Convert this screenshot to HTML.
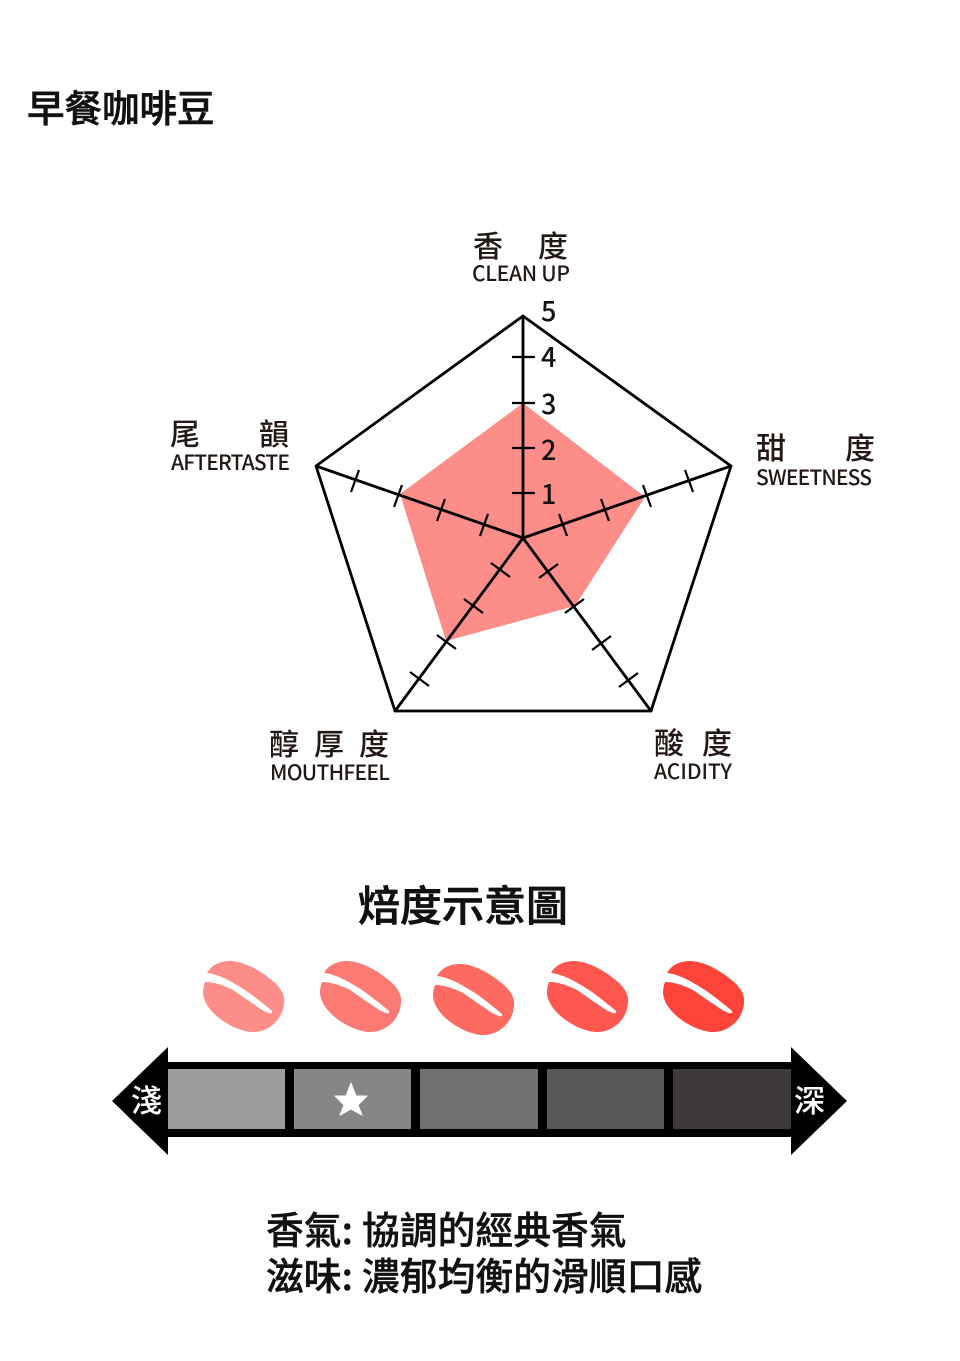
<!DOCTYPE html>
<html lang="zh-Hant"><head><meta charset="utf-8"><title>早餐咖啡豆</title>
<style>
html,body{margin:0;padding:0;background:#fff;width:960px;height:1361px;overflow:hidden}
svg{display:block}
text{font-family:"Noto Sans CJK TC","Noto Sans CJK SC","Liberation Sans",sans-serif}
.l{font-size:30px;fill:#231815;font-weight:500}
.e{font-size:21px;fill:#231815;font-weight:500}
.n{font-size:27px;fill:#111;font-weight:500}
.b{font-size:37.8px;fill:#111;font-weight:500;stroke:#111;stroke-width:.4}
</style></head><body>
<svg width="960" height="1361" viewBox="0 0 960 1361" xmlns="http://www.w3.org/2000/svg">
<defs>
<g id="bean"><path d="M4 12C8 5 15 0 28 0C45 1 62 13 72 22C78 28 82 34 81 42C80 58 66 72 48 71C28 69 0 50 0 31C0 27 1 24 2 21Z"/><path fill="#fff" d="M-2 12L4 12C15 13 28 20 42 29C52 36 62 44 69 50Q70 53 66 52C60 50 56 47 52 44C44 39 36 33 30 29C22 25 12 21 2 21L-2 22Z"/></g>
</defs>
<text x="27" y="122" style="font-size:37.5px;font-weight:500;fill:#111;stroke:#111;stroke-width:.6">早餐咖啡豆</text>

<polygon points="523,403 645,497 575,606 446,641 400,494" fill="#fd8d89"/>
<polygon points="523,316 731,466 651,711 395,711 316,466" fill="none" stroke="#000" stroke-width="2.8" stroke-linejoin="miter"/>
<g stroke="#000" stroke-width="2.8" fill="none">
<path d="M523 316V538M731 466L523 538M651 711L523 538M395 711L523 538M316 466L523 538"/>
<g stroke-width="2.2">
<path d="M512 357H535M512 403H535M512 448H535M512 493H535"/>
<path d="M559 514L567 536M601 499L609 521M643 485L651 507M685 470L693 492"/>
<path d="M488 514L480 536M445 499L437 521M402 485L394 507M359 470L351 492"/>
<path d="M539 578L558 564M565 613L584 599M592 650L611 636M619 687L638 673"/>
<path d="M491 563L510 577M464 599L483 613M437 635L456 649M410 672L429 686"/>
</g></g>
<text class="n" x="541" y="321">5</text>
<text class="n" x="541" y="367">4</text>
<text class="n" x="541" y="414">3</text>
<text class="n" x="541" y="460">2</text>
<text class="n" x="541" y="504">1</text>

<text class="l" x="473" y="257">香</text><text class="l" x="538" y="257">度</text>
<text class="e" x="472" y="281" textLength="98">CLEAN UP</text>
<text class="l" x="170" y="445">尾</text><text class="l" x="259" y="445">韻</text>
<text class="e" x="171" y="470" textLength="119">AFTERTASTE</text>
<text class="l" x="756" y="459">甜</text><text class="l" x="845" y="459">度</text>
<text class="e" x="756" y="485" textLength="116">SWEETNESS</text>
<text class="l" x="269" y="755">醇</text><text class="l" x="314" y="755">厚</text><text class="l" x="359" y="755">度</text>
<text class="e" x="270" y="780" textLength="120">MOUTHFEEL</text>
<text class="l" x="654" y="754">酸</text><text class="l" x="702" y="754">度</text>
<text class="e" x="654" y="779" textLength="78">ACIDITY</text>

<text x="358" y="921" style="font-size:42px;font-weight:500;fill:#111;stroke:#111;stroke-width:.7">焙度示意圖</text>

<use href="#bean" x="203" y="961" fill="#fd8d89"/>
<use href="#bean" x="320" y="961" fill="#fb7a74"/>
<use href="#bean" x="433" y="964" fill="#fc6a61"/>
<use href="#bean" x="547" y="961" fill="#fd5750"/>
<use href="#bean" x="663" y="961" fill="#fd433a"/>

<rect x="168" y="1062" width="623" height="75" fill="#000"/>
<polygon points="168,1047 112,1101 168,1155" fill="#000"/>
<polygon points="791,1047 847,1101 791,1155" fill="#000"/>
<rect x="168" y="1069" width="117" height="60" fill="#9c9c9c"/>
<rect x="294" y="1069" width="117" height="60" fill="#868686"/>
<rect x="420" y="1069" width="118" height="60" fill="#707070"/>
<rect x="547" y="1069" width="117" height="60" fill="#585757"/>
<rect x="673" y="1069" width="118" height="60" fill="#3e3a39"/>
<polygon points="351,1083 356,1096 367,1096 358,1105 362,1115 351,1109 340,1115 344,1105 335,1096 346,1096" fill="#fff" stroke="#fff" stroke-width="1" stroke-linejoin="round"/>
<text x="131" y="1112" style="font-size:31px;fill:#fff;font-weight:500">淺</text>
<text x="794" y="1112" style="font-size:31px;fill:#fff;font-weight:500">深</text>

<text class="b" x="266" y="1244">香氣:</text><text class="b" x="362" y="1244">協調的經典香氣</text>
<text class="b" x="266" y="1290">滋味:</text><text class="b" x="362" y="1290">濃郁均衡的滑順口感</text>
</svg>
</body></html>
